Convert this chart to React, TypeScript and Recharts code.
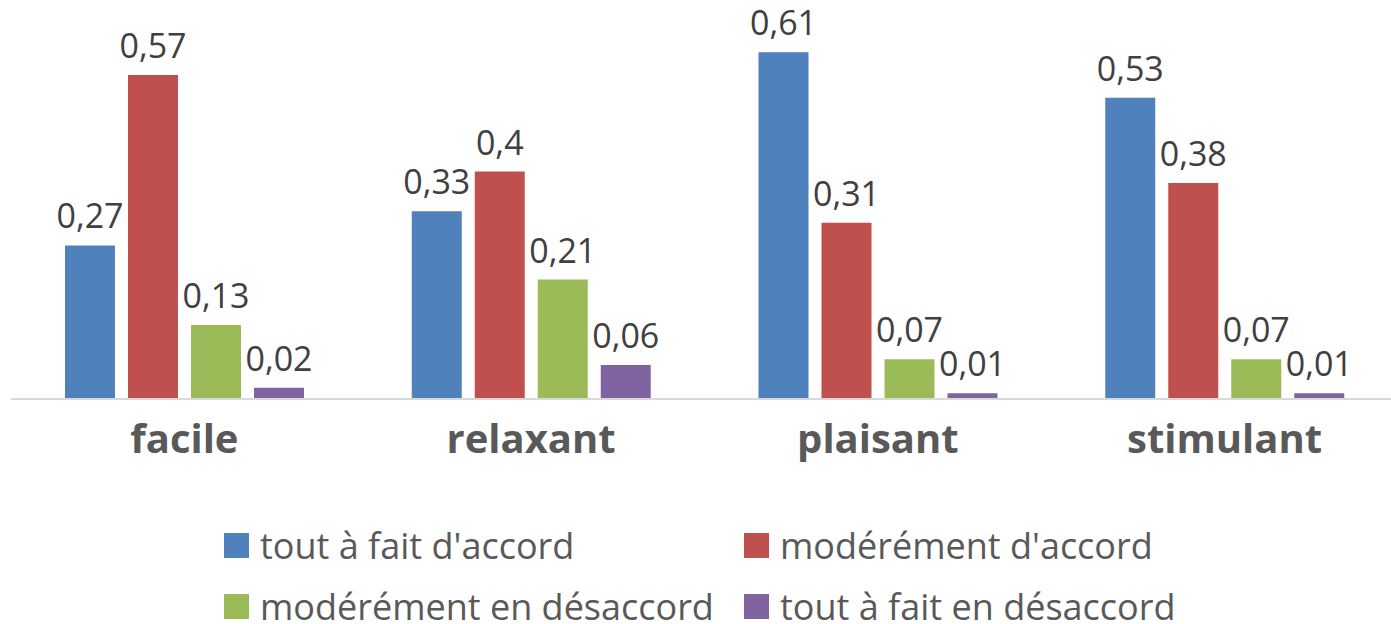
import { BarChart, Bar, XAxis, YAxis, LabelList } from "recharts";

const categories = ["facile", "relaxant", "plaisant", "stimulant"];
const toutAFaitDAccord = [0.27, 0.33, 0.61, 0.53];
const moderementDAccord = [0.57, 0.4, 0.31, 0.38];
const moderementEnDesaccord = [0.13, 0.21, 0.07, 0.07];
const toutAFaitEnDesaccord = [0.02, 0.06, 0.01, 0.01];

const series = [
  { key: "s1", name: "tout à fait d'accord", color: "#4f81bd", values: toutAFaitDAccord },
  { key: "s2", name: "modérément d'accord", color: "#c0504d", values: moderementDAccord },
  { key: "s3", name: "modérément en désaccord", color: "#9bbb59", values: moderementEnDesaccord },
  { key: "s4", name: "tout à fait en désaccord", color: "#8064a2", values: toutAFaitEnDesaccord },
];

const data = categories.map((cat, i) => {
  const row: Record<string, string | number> = { cat };
  series.forEach((s) => (row[s.key] = s.values[i]));
  return row;
});

const FONT = "'Open Sans', sans-serif";

const fmt = (v: any) => String(v).replace(".", ",");

function CategoryTick({ x, y, payload }: any) {
  return (
    <text x={x} y={y} dy={54} textAnchor="middle" fill="#595959" fontSize={40} fontWeight={700} fontFamily={FONT}>
      {payload.value}
    </text>
  );
}

// legend slots: [left, top] of the colour square
const legendPos = [
  [224, 533],
  [744, 533],
  [224, 594],
  [744, 594],
];

export default function App() {
  return (
    <div style={{ position: "absolute", left: 0, top: 0, width: 1391, height: 624, overflow: "hidden", background: "#fff", fontFamily: FONT }}>
      <BarChart width={1398} height={470} data={data} margin={{ top: 1, right: 0, left: 11, bottom: 0 }} barGap={13} barSize={50}>
        <XAxis
          dataKey="cat"
          height={71}
          tickLine={false}
          tickSize={0}
          tickMargin={0}
          axisLine={{ stroke: "#d9d9d9", strokeWidth: 2 }}
          tick={<CategoryTick />}
          interval={0}
        />
        <YAxis hide domain={[0, 0.7]} />
        {series.map((s) => (
          <Bar key={s.key} dataKey={s.key} name={s.name} fill={s.color} isAnimationActive={false}>
            <LabelList dataKey={s.key} position="top" offset={17} formatter={fmt} fill="#404040" fontSize={34} fontFamily={FONT} />
          </Bar>
        ))}
      </BarChart>
      {series.map((s, i) => (
        <div key={s.key} style={{ position: "absolute", left: legendPos[i][0], top: legendPos[i][1] - 2.5, display: "flex", alignItems: "center", height: 30 }}>
          <div style={{ width: 25, height: 25, background: s.color, flex: "none" }} />
          <span style={{ display: "inline-block", marginLeft: 11, fontSize: 36, color: "#595959", whiteSpace: "nowrap", height: 30, lineHeight: "30px" }}>{s.name}</span>
        </div>
      ))}
    </div>
  );
}
